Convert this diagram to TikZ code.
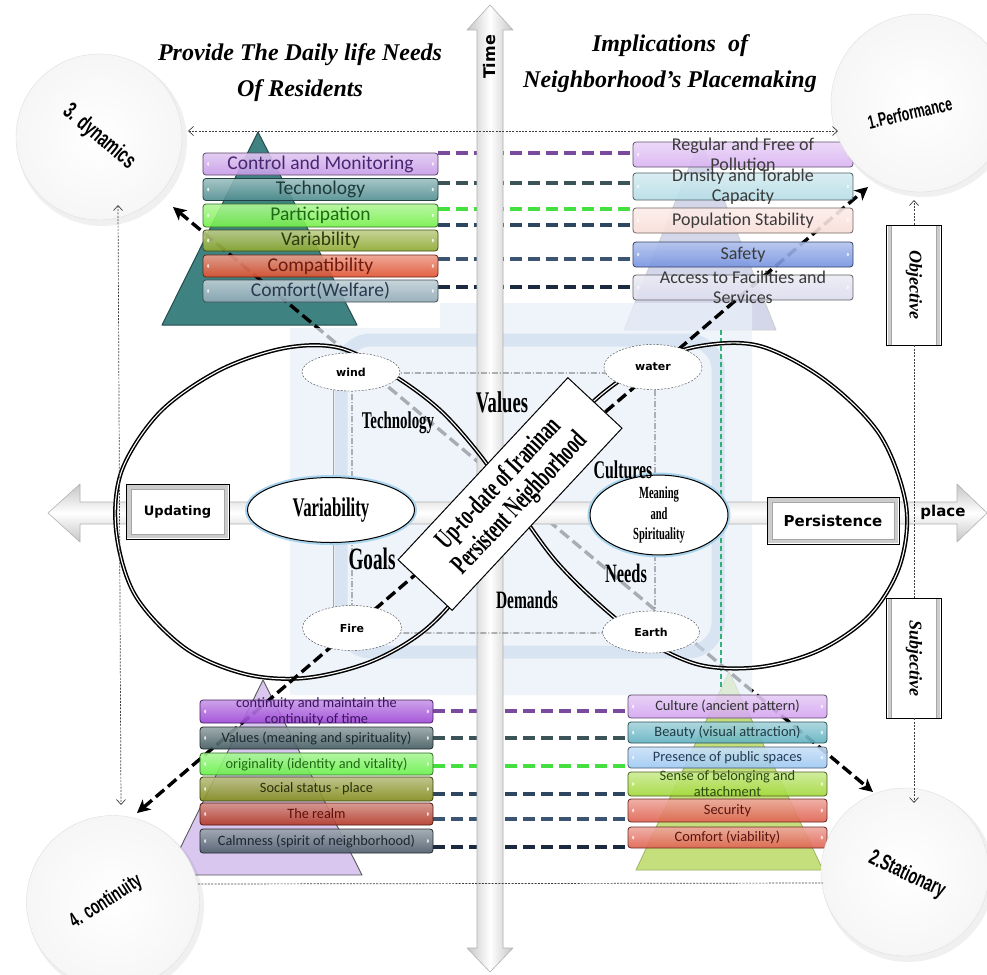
\documentclass[tikz,border=0pt]{standalone}
\usepackage{fontspec}
\setmainfont{Liberation Serif}
\newfontfamily\boxfont{Carlito}
\newfontfamily\cserif[FakeStretch=0.62]{Liberation Serif}
\newfontfamily\csans[FakeStretch=0.65]{Liberation Sans}
\newfontfamily\dvs{DejaVu Sans}
\usetikzlibrary{arrows.meta,calc,shapes.geometric}
\pgfdeclarelayer{back}
\pgfsetlayers{back,main}
% stack box colours
\definecolor{tla}{HTML}{C79BE8}\definecolor{tlat}{HTML}{4B2570}
\definecolor{tlb}{HTML}{4E8C8E}\definecolor{tlbt}{HTML}{1E3A3B}
\definecolor{tlc}{HTML}{74F048}\definecolor{tlct}{HTML}{1C6B12}
\definecolor{tld}{HTML}{8DA82E}\definecolor{tldt}{HTML}{2E3A0C}
\definecolor{tle}{HTML}{E0502E}\definecolor{tlet}{HTML}{6E1A0E}
\definecolor{tlf}{HTML}{8FA9B6}\definecolor{tlft}{HTML}{2A3A4E}
\definecolor{tra}{HTML}{D9B3F2}\definecolor{trb}{HTML}{B5DDE6}
\definecolor{trc}{HTML}{F9DED8}\definecolor{trd}{HTML}{7492E0}
\definecolor{tre}{HTML}{DCDCEE}\definecolor{trt}{HTML}{3A3A3A}
\definecolor{bla}{HTML}{9C45D6}\definecolor{blat}{HTML}{3A1460}
\definecolor{blb}{HTML}{40595E}\definecolor{blbt}{HTML}{1A2A2E}
\definecolor{blc}{HTML}{66F046}\definecolor{blct}{HTML}{1E6A12}
\definecolor{bld}{HTML}{7F8A18}\definecolor{bldt}{HTML}{2A300A}
\definecolor{ble}{HTML}{B23624}\definecolor{blet}{HTML}{5E120A}
\definecolor{blf}{HTML}{4C5C6A}\definecolor{blft}{HTML}{1C2630}
\definecolor{bra}{HTML}{D3A4F0}\definecolor{brat}{HTML}{303030}
\definecolor{brb}{HTML}{5FB1C0}\definecolor{brbt}{HTML}{1E3A44}
\definecolor{brc}{HTML}{9DC8F2}\definecolor{brct}{HTML}{253A55}
\definecolor{brd}{HTML}{A2D93A}\definecolor{brdt}{HTML}{2A4A10}
\definecolor{bre}{HTML}{E0604E}\definecolor{bret}{HTML}{5A1410}
% row connector colours
\definecolor{rowa}{HTML}{7A4A9E}\definecolor{rowb}{HTML}{3C5458}
\definecolor{rowc}{HTML}{44E040}\definecolor{rowd}{HTML}{2E4660}
\definecolor{rowe}{HTML}{3A5472}\definecolor{rowf}{HTML}{1C2A40}
% other
\definecolor{bgblue}{HTML}{E9F1FA}\definecolor{bandblue}{HTML}{C9DAEB}
\definecolor{tealtri}{HTML}{3E8282}\definecolor{tealdk}{HTML}{244C4C}
\definecolor{lavtri}{HTML}{D9C7EF}\definecolor{grntri}{HTML}{C5DF7C}
\definecolor{gretri}{HTML}{D4D7E9}\definecolor{glow}{HTML}{A9D4EE}
\newcommand\stackbox[8]{%
  \node[bx=#6, minimum width=#4pt, minimum height=#5pt] (#1) at (#2,#3) {};
  \node[bt, text=#7] (#1t) at (#1) {#8};}
\begin{document}
\begin{tikzpicture}[x=1pt,y=-1pt,
  >={Straight Barb[length=5pt,width=9pt]},
  bx/.style={rounded corners=3pt, draw=#1!45!black, line width=0.8pt,
    top color=#1!55!white, bottom color=#1, fill opacity=0.9, inner sep=0pt,
    path picture={
      \fill[white,opacity=0.75] ($(path picture bounding box.west)+(4pt,3pt)$) -- ($(path picture bounding box.west)+(7.5pt,0pt)$) -- ($(path picture bounding box.west)+(4pt,-3pt)$) -- cycle;
      \fill[white,opacity=0.75] ($(path picture bounding box.east)+(-4pt,3pt)$) -- ($(path picture bounding box.east)+(-7.5pt,0pt)$) -- ($(path picture bounding box.east)+(-4pt,-3pt)$) -- cycle;}},
  bt/.style={align=center, inner sep=0pt},
  dotc/.style={draw=black!75, line width=0.7pt, dash pattern=on 2pt off 1.3pt},
  bigdash/.style={draw=black, line width=3.4pt, dash pattern=on 11pt off 5pt,
    arrows={Stealth[length=13pt,width=13pt,inset=3.5pt]-Stealth[length=13pt,width=13pt,inset=3.5pt]}},
  rowl/.style={draw=#1, line width=3.6pt, dash pattern=on 12pt off 6pt},
  arrowbody/.style={draw=gray!60, line width=0.6pt, line join=round},
  loopst/.style={draw=black, line width=1.5pt, double=white, double distance=1.1pt, line join=round},
  elem/.style={ellipse, draw=black!75, dash pattern=on 2pt off 1.5pt, fill=white, inner sep=0pt,
    font=\dvs\bfseries\fontsize{11}{12}\selectfont},
  bigell/.style={ellipse, draw=black, line width=1pt, fill=white, inner sep=0pt,
    preaction={draw=glow, line width=5pt}},
  lbl/.style={inner sep=0pt, font=\cserif\bfseries\fontsize{#1}{#1}\selectfont},
  bevel/.style={draw=black, line width=0.9pt, fill=white, inner sep=0pt,
    path picture={\draw[gray!40, line width=3.5pt] ($(path picture bounding box.south west)+(3pt,3pt)$) rectangle ($(path picture bounding box.north east)+(-3pt,-3pt)$);
      \draw[gray!70, line width=0.5pt] ($(path picture bounding box.south west)+(5pt,5pt)$) rectangle ($(path picture bounding box.north east)+(-5pt,-5pt)$);}},
  rnd/.style={circle, draw=gray!25, inner color=white, outer color=gray!7, minimum size=#1, inner sep=0pt},
  ctext/.style={inner sep=0pt, font=\csans\bfseries\fontsize{#1}{#1}\selectfont},
  title/.style={align=center, inner sep=0pt, font=\bfseries\itshape\fontsize{24}{36.5}\selectfont},
  axlab/.style={inner sep=0pt, font=\dvs\bfseries\fontsize{#1}{#1}\selectfont},
  sidebox/.style={bevel, rotate=-90, minimum width=120pt, minimum height=55pt,
    font=\bfseries\itshape\fontsize{18}{18}\selectfont}
]
\useasboundingbox (0,0) rectangle (987,974);

% ================= foreground nodes (main layer)
% box stacks
\begin{scope}[bt/.append style={font=\boxfont\fontsize{19.5}{20}\selectfont}]
\stackbox{tl1}{320.5}{164}{235}{22}{tla}{tlat}{Control and Monitoring}
\stackbox{tl2}{320.5}{189.5}{235}{22}{tlb}{tlbt}{Technology}
\stackbox{tl3}{320.5}{215.5}{235}{23}{tlc}{tlct}{Participation}
\stackbox{tl4}{320.5}{240.5}{235}{21}{tld}{tldt}{Variability}
\stackbox{tl5}{320.5}{266}{235}{22}{tle}{tlet}{Compatibility}
\stackbox{tl6}{320.5}{291}{235}{22}{tlf}{tlft}{Comfort(Welfare)}
\end{scope}
\begin{scope}[bt/.append style={font=\boxfont\fontsize{18}{19.5}\selectfont}]
\stackbox{tr1}{743}{154.5}{220}{25}{tra}{trt}{Regular and Free of\\Pollution}
\stackbox{tr2}{743}{186.5}{220}{27}{trb}{trt}{Drnsity and Torable\\Capacity}
\stackbox{tr3}{743}{220.5}{220}{25}{trc}{trt}{Population Stability}
\stackbox{tr4}{743}{254.5}{220}{25}{trd}{trt}{Safety}
\stackbox{tr5}{743}{287.5}{220}{25}{tre}{trt}{Access to Facilities and\\Services}
\end{scope}
\begin{scope}[bt/.append style={font=\boxfont\fontsize{14.3}{16}\selectfont}]
\stackbox{bl1}{316.5}{711.5}{233}{23}{bla}{blat}{continuity and maintain the\\continuity of time}
\stackbox{bl2}{316.5}{738}{233}{22}{blb}{blbt}{Values (meaning and spirituality)}
\stackbox{bl3}{316.5}{764}{233}{22}{blc}{blct}{originality (identity and vitality)}
\stackbox{bl4}{316.5}{789}{233}{24}{bld}{bldt}{Social status - place}
\stackbox{bl5}{316.5}{814}{233}{22}{ble}{blet}{The realm}
\stackbox{bl6}{316.5}{841}{233}{24}{blf}{blft}{Calmness (spirit of neighborhood)}
\end{scope}
\begin{scope}[bt/.append style={font=\boxfont\fontsize{14.4}{16}\selectfont}]
\stackbox{br1}{727.5}{706.5}{199}{23}{bra}{brat}{Culture (ancient pattern)}
\stackbox{br2}{727.5}{732.5}{199}{21}{brb}{brbt}{Beauty (visual attraction)}
\stackbox{br3}{727.5}{757.5}{199}{21}{brc}{brct}{Presence of public spaces}
\stackbox{br4}{727.5}{784}{199}{24}{brd}{brdt}{Sense of belonging and\\attachment}
\stackbox{br5}{727.5}{810.5}{199}{23}{bre}{bret}{Security}
\stackbox{br6}{727.5}{837.5}{199}{21}{bre}{bret}{Comfort (viability)}
\end{scope}

% four elements
\node[elem, minimum width=98pt, minimum height=38pt] (wind) at (351,372) {wind};
\node[elem, minimum width=98pt, minimum height=45pt] (water) at (653,367) {water};
\node[elem, minimum width=99pt, minimum height=45pt] (fire) at (352,628) {Fire};
\node[elem, minimum width=97pt, minimum height=42pt] (earth) at (651,632) {Earth};

\node[bigell, minimum width=167pt, minimum height=65pt, font=\cserif\bfseries\fontsize{27}{28}\selectfont] (var) at (331,510) {Variability};
\node[bigell, minimum width=138pt, minimum height=66pt, align=center, font=\cserif\bfseries\fontsize{17}{20.5}\selectfont] (mean) at (659,515) {Meaning\\and\\Spirituality};

\node[lbl=30] (vals) at (502,402) {Values};
\node[lbl=24] (tech) at (398,423) {Technology};
\node[lbl=31] (goals) at (372,559) {Goals};
\node[lbl=25.5] (cult) at (623,470) {Cultures};
\node[lbl=26.5] (needs) at (626,573) {Needs};
\node[lbl=25] (dem) at (527,600) {Demands};

\node[draw=black, line width=1pt, fill=white, rotate=47, minimum width=249pt, minimum height=74pt, align=center, inner sep=0pt,
  font=\cserif\bfseries\fontsize{28}{29}\selectfont] (core) at (510,494) {Up-to-date of Iraninan\\Persistent Neighborhood};

% axis boxes and labels
\node[bevel, minimum width=103pt, minimum height=55pt, font=\dvs\bfseries\fontsize{13}{14}\selectfont] (upd) at (177.5,511.5) {Updating};
\node[bevel, minimum width=132pt, minimum height=47pt, font=\dvs\bfseries\fontsize{15}{16}\selectfont] (pers) at (833,520.5) {Persistence};
\node[axlab=15] (plc) at (943,512) {place};
\node[axlab=16, rotate=90] (tm) at (490,57) {Time};

\node[sidebox] (obj) at (914,285) {Objective};
\node[sidebox] (subj) at (914,658) {Subjective};

% titles
\node[title] (tt1) at (300,72.5) {Provide The Daily life Needs\\Of Residents};
\node[title] (tt2) at (670,63.5) {Implications\ \ of\\Neighborhood’s Placemaking};

% corner circles
\fill[black, opacity=0.06] (102,141) circle (85pt);
\node[rnd=166pt] (c3) at (99,137) {};
\node[ctext=23, rotate=-40] (c3t) at (99,137) {3. dynamics};
\fill[black, opacity=0.06] (923,107) circle (90pt);
\node[rnd=178pt] (c1) at (920,103) {};
\node[ctext=19, rotate=13] (c1t) at (910,113) {1.Performance};
\fill[black, opacity=0.06] (116,906) circle (88pt);
\node[rnd=173pt] (c4) at (113,902) {};
\node[ctext=21, rotate=33] (c4t) at (106,902) {4. continuity};
\fill[black, opacity=0.06] (908,876) circle (86pt);
\node[rnd=168pt] (c2) at (905,872) {};
\node[ctext=22, rotate=-25] (c2t) at (907,875) {2.Stationary};

% dotted links between the circles
\coordinate (a3) at (188,131);
\coordinate (a1) at (838,131);
\draw[dotc,<->] (a3) -- (a1);
\coordinate (b3) at (118,205);
\coordinate (b4) at (121,805);
\draw[dotc,<->] (b3) -- (b4);
\coordinate (r1) at (914,200);
\coordinate (r2) at (914,803);
\draw[dotc,->] (obj.west) -- (r1);
\draw[dotc] (obj.east) -- (subj.west);
\draw[dotc,->] (subj.east) -- (r2);
\coordinate (e4) at (198,884);
\coordinate (e2) at (823,883);
\draw[dotc] (e4) -- (e2);

% ================= background layer
\begin{pgfonlayer}{back}
\fill[white] (0,0) rectangle (987,974);
% triangles
\filldraw[fill=tealtri, draw=tealdk, line width=1pt, line join=round] (258,132) -- (357,325) -- (162,325) -- cycle;
\filldraw[fill=gretri, draw=gray!40, line width=0.8pt, line join=round] (700,140) -- (776,330) -- (624,330) -- cycle;
\filldraw[fill=lavtri, draw=black!65, line width=0.9pt, line join=round] (263,680) -- (362,875) -- (167,875) -- cycle;
\filldraw[fill=grntri, draw=grntri!80!black, line width=0.8pt, line join=round] (729,672) -- (823,870) -- (636,870) -- cycle;
% diagonal 3 <-> 2 (faded by the background)
\coordinate (d3) at (173,207);
\coordinate (d2) at (873,792);
\draw[bigdash] (d3) -- (d2);
% central faded background
\fill[bgblue, fill opacity=0.72] (290,328) -- (440,328) -- (440,303) -- (752,303) -- (752,695) -- (290,695) -- cycle;
\draw[bandblue, line width=13pt, rounded corners=30pt, opacity=0.6] (341,340) rectangle (718,652);
\draw[green!60!black, opacity=0.5, line width=1pt] (333,388) -- (333,615);
\draw[teal!70!green, opacity=0.8, line width=2pt, dash pattern=on 5pt off 3pt] (721,330) -- (721,690);
% row connectors
\draw[rowl=rowa] (tl1.east |- 0,153) -- (tr1.west |- 0,153);
\draw[rowl=rowb] (tl2.east |- 0,183) -- (tr2.west |- 0,183);
\draw[rowl=rowc] (tl3.east |- 0,209) -- (tr3.west |- 0,209);
\draw[rowl=rowd] (tl4.east |- 0,225) -- (tr3.west |- 0,225);
\draw[rowl=rowe] (tl5.east |- 0,259) -- (tr4.west |- 0,259);
\draw[rowl=rowf] (tl6.east |- 0,287) -- (tr5.west |- 0,287);
\draw[rowl=rowa] (bl1.east |- 0,711) -- (br1.west |- 0,711);
\draw[rowl=rowb] (bl2.east |- 0,738) -- (br2.west |- 0,738);
\draw[rowl=rowc] (bl3.east |- 0,766) -- (br3.west |- 0,766);
\draw[rowl=rowd] (bl4.east |- 0,794) -- (br4.west |- 0,794);
\draw[rowl=rowe] (bl5.east |- 0,819) -- (br5.west |- 0,819);
\draw[rowl=rowf] (bl6.east |- 0,847) -- (br6.west |- 0,847);
% Time and place arrows
\path[arrowbody, left color=gray!45, right color=gray!45, middle color=white]
  (490,5) -- (513,30) -- (503,30) -- (503,948) -- (513,948) -- (490,972) -- (467,948) -- (477,948) -- (477,30) -- (467,30) -- cycle;
\path[arrowbody, top color=gray!45, bottom color=gray!45, middle color=white]
  (48,513) -- (80,484) -- (80,502) -- (957,502) -- (957,484) -- (987,513) -- (957,542) -- (957,524) -- (80,524) -- (80,542) -- cycle;
% infinity loop
\draw[loopst] plot[smooth cycle, tension=0.55] coordinates {
  (515,505) (555,447) (595,400) (645,365) (700,346) (760,346) (825,380) (880,435)
  (906,505) (900,565) (870,615) (820,650) (760,667) (700,665) (645,640) (600,605)
  (555,560) (515,505) (480,455) (440,410) (393,375) (340,348) (285,348) (220,370)
  (160,412) (122,470) (116,530) (135,595) (185,648) (245,674) (305,678) (370,662)
  (425,630) (470,580)};
% diagonal 4 <-> 1
\coordinate (d4) at (137,813);
\coordinate (d1) at (868,187);
\draw[bigdash] (d4) -- (d1);
% dash-dot frame
\draw[black!80, line width=0.7pt, dash pattern=on 6pt off 2pt on 1pt off 2pt, rounded corners=10pt] (352,373) rectangle (655,633);
\end{pgfonlayer}
\end{tikzpicture}
\end{document}
